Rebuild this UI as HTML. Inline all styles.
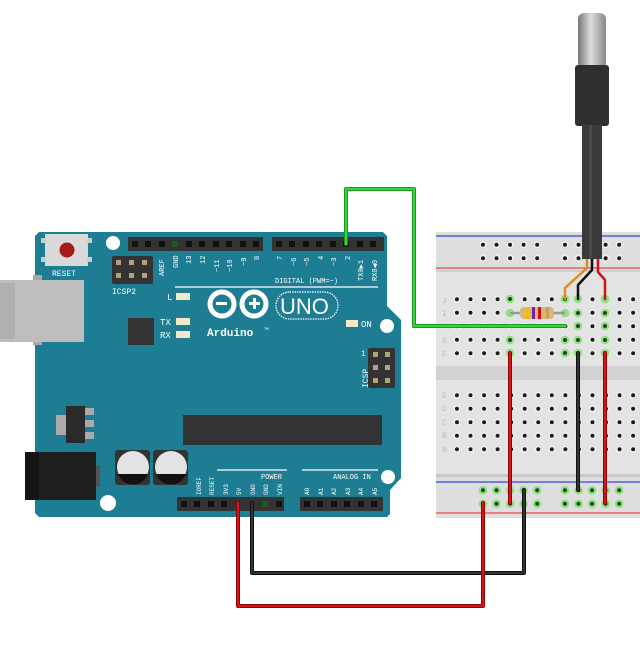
<!DOCTYPE html>
<html><head><meta charset="utf-8"><style>
html,body{margin:0;padding:0;background:#fff;width:640px;height:647px;overflow:hidden}
svg{display:block}
text{font-family:"Liberation Mono",monospace;fill:#fff}
</style></head><body>
<svg width="640" height="647" viewBox="0 0 640 647" xmlns="http://www.w3.org/2000/svg">
<defs>
<pattern id="h" x="450.2" y="292.5" width="13.55" height="13.5" patternUnits="userSpaceOnUse">
<circle cx="6.77" cy="6.75" r="3.3" fill="#f4f4f4"/><circle cx="6.77" cy="6.75" r="2" fill="#1a1a1a"/></pattern>
<pattern id="hb" x="450.2" y="388.5" width="13.55" height="13.5" patternUnits="userSpaceOnUse">
<circle cx="6.77" cy="6.75" r="3.3" fill="#f4f4f4"/><circle cx="6.77" cy="6.75" r="2" fill="#1a1a1a"/></pattern>
<pattern id="rt" x="476.2" y="238" width="13.55" height="13.5" patternUnits="userSpaceOnUse">
<circle cx="6.77" cy="6.75" r="3.3" fill="#f4f4f4"/><circle cx="6.77" cy="6.75" r="2" fill="#1a1a1a"/></pattern>
<pattern id="rt2" x="558.2" y="238" width="13.55" height="13.5" patternUnits="userSpaceOnUse">
<circle cx="6.77" cy="6.75" r="3.3" fill="#f4f4f4"/><circle cx="6.77" cy="6.75" r="2" fill="#1a1a1a"/></pattern>
<pattern id="g" x="476.2" y="483.5" width="13.55" height="13.5" patternUnits="userSpaceOnUse">
<circle cx="6.77" cy="6.75" r="4.3" fill="#8fe07f"/><circle cx="6.77" cy="6.75" r="2" fill="#1a4a1a"/></pattern>
<pattern id="g2" x="558.2" y="483.5" width="13.55" height="13.5" patternUnits="userSpaceOnUse">
<circle cx="6.77" cy="6.75" r="4.3" fill="#8fe07f"/><circle cx="6.77" cy="6.75" r="2" fill="#1a4a1a"/></pattern>
<linearGradient id="steel" x1="0" x2="1"><stop offset="0" stop-color="#777"/><stop offset=".45" stop-color="#ddd"/><stop offset="1" stop-color="#888"/></linearGradient>
</defs>

<!-- Breadboard -->
<rect x="436" y="232" width="204" height="286" fill="#e3e3e3"/>
<rect x="436" y="232" width="204" height="40" fill="#dedede"/>
<rect x="436" y="476" width="204" height="42" fill="#dedede"/>
<rect x="436" y="474" width="204" height="3" fill="#c8c8c8"/>
<rect x="436" y="270" width="204" height="2" fill="#cfcfcf"/>
<rect x="436" y="366" width="204" height="14" fill="#d2d2d2"/>
<line x1="436" y1="236" x2="640" y2="236" stroke="#3344dd" stroke-width="1.2"/>
<line x1="436" y1="268" x2="640" y2="268" stroke="#ee4444" stroke-width="1.2"/>
<line x1="436" y1="482" x2="640" y2="482" stroke="#3344dd" stroke-width="1.2"/>
<line x1="436" y1="513" x2="640" y2="513" stroke="#ee4444" stroke-width="1.2"/>
<rect x="450" y="292" width="190" height="68" fill="url(#h)"/>
<rect x="450" y="388" width="190" height="68" fill="url(#hb)"/>
<rect x="476" y="238" width="68" height="27" fill="url(#rt)"/>
<rect x="558" y="238" width="68" height="27" fill="url(#rt2)"/>
<rect x="476" y="483" width="68" height="27" fill="url(#g)"/>
<rect x="558" y="483" width="68" height="27" fill="url(#g2)"/>
<g font-size="8" font-family="Liberation Sans,sans-serif">
<text x="442" y="303" style="fill:#bbb">J</text><text x="442" y="316" style="fill:#bbb">I</text>
<text x="442" y="343" style="fill:#bbb">G</text><text x="442" y="357" style="fill:#bbb">F</text>
<text x="442" y="398" style="fill:#bbb">E</text><text x="442" y="411" style="fill:#bbb">D</text>
<text x="442" y="425" style="fill:#bbb">C</text><text x="442" y="438" style="fill:#bbb">B</text>
<text x="442" y="452" style="fill:#bbb">A</text>
</g>
<g fill="#8fe07f">
<circle cx="510" cy="299" r="4.3"/><circle cx="510" cy="313" r="4.3"/><circle cx="510" cy="340" r="4.3"/><circle cx="510" cy="353" r="4.3"/>
<circle cx="565" cy="299" r="4.3"/><circle cx="565" cy="313" r="4.3"/><circle cx="565" cy="340" r="4.3"/><circle cx="565" cy="353" r="4.3"/>
<circle cx="578" cy="299" r="4.3"/><circle cx="578" cy="313" r="4.3"/><circle cx="578" cy="326" r="4.3"/><circle cx="578" cy="340" r="4.3"/><circle cx="578" cy="353" r="4.3"/>
<circle cx="605" cy="299" r="4.3"/><circle cx="605" cy="313" r="4.3"/><circle cx="605" cy="326" r="4.3"/><circle cx="605" cy="340" r="4.3"/><circle cx="605" cy="353" r="4.3"/>
</g>
<g fill="#1a4a1a">
<circle cx="578" cy="313" r="2"/><circle cx="578" cy="326" r="2"/><circle cx="578" cy="340" r="2"/>
<circle cx="605" cy="313" r="2"/><circle cx="605" cy="326" r="2"/><circle cx="605" cy="340" r="2"/>
<circle cx="510" cy="299" r="2"/><circle cx="510" cy="340" r="2"/><circle cx="565" cy="340" r="2"/><circle cx="565" cy="299" r="2"/><circle cx="565" cy="353" r="2"/>
</g>

<!-- Arduino board -->
<polygon points="35,236 39,232 383,232 387,236 387,306 401,320 401,478 390,490 390,514 387,517 39,517 35,513" fill="#1c7d93"/>
<rect x="33" y="275" width="9" height="70" fill="#a8a8a8"/>
<rect x="0" y="280" width="84" height="62" fill="#bdbdbd"/>
<rect x="0" y="283" width="15" height="56" fill="#b0b0b0"/>
<rect x="45" y="234" width="43" height="32" fill="#d9d9d9"/>
<rect x="41" y="238" width="5" height="5" fill="#ccc"/><rect x="87" y="238" width="5" height="5" fill="#ccc"/>
<rect x="41" y="257" width="5" height="5" fill="#ccc"/><rect x="87" y="257" width="5" height="5" fill="#ccc"/>
<circle cx="67" cy="250" r="7.5" fill="#a51b1b"/>
<text x="52" y="276" font-size="8">RESET</text>
<circle cx="113" cy="243" r="7" fill="#fff"/>
<circle cx="387" cy="326" r="7" fill="#fff"/>
<circle cx="388" cy="477" r="7" fill="#fff"/>
<circle cx="108" cy="503" r="8" fill="#fff"/>
<rect x="128" y="237" width="135" height="14" fill="#333"/>
<g fill="#111">
<rect x="132" y="241" width="6" height="6"/><rect x="145" y="241" width="6" height="6"/><rect x="159" y="241" width="6" height="6"/><rect x="172" y="241" width="6" height="6" fill="#1a5a1a"/><rect x="186" y="241" width="6" height="6"/><rect x="199" y="241" width="6" height="6"/><rect x="213" y="241" width="6" height="6"/><rect x="226" y="241" width="6" height="6"/><rect x="240" y="241" width="6" height="6"/><rect x="253" y="241" width="6" height="6"/>
</g>
<rect x="272" y="237" width="112" height="14" fill="#333"/>
<g fill="#111">
<rect x="276" y="241" width="6" height="6"/><rect x="289" y="241" width="6" height="6"/><rect x="303" y="241" width="6" height="6"/><rect x="316" y="241" width="6" height="6"/><rect x="330" y="241" width="6" height="6"/><rect x="343" y="241" width="6" height="6"/><rect x="357" y="241" width="6" height="6"/><rect x="370" y="241" width="6" height="6"/>
</g>
<g font-size="7">
<text transform="translate(164,276) rotate(-90)">AREF</text>
<text transform="translate(178,268) rotate(-90)">GND</text>
<text transform="translate(191,264) rotate(-90)">13</text>
<text transform="translate(205,264) rotate(-90)">12</text>
<text transform="translate(219,272) rotate(-90)">~11</text>
<text transform="translate(232,272) rotate(-90)">~10</text>
<text transform="translate(246,266) rotate(-90)">~9</text>
<text transform="translate(259,260) rotate(-90)">8</text>
<text transform="translate(282,260) rotate(-90)">7</text>
<text transform="translate(296,266) rotate(-90)">~6</text>
<text transform="translate(309,266) rotate(-90)">~5</text>
<text transform="translate(323,260) rotate(-90)">4</text>
<text transform="translate(336,266) rotate(-90)">~3</text>
<text transform="translate(350,260) rotate(-90)">2</text>
<text transform="translate(363,281) rotate(-90)">TX0▶1</text>
<text transform="translate(377,281) rotate(-90)">RX0◀0</text>
<text x="275" y="283">DIGITAL (PWM=~)</text>
</g>
<line x1="175" y1="287" x2="378" y2="287" stroke="#fff" stroke-width="1.3"/>
<rect x="112" y="256" width="41" height="28" rx="2" fill="#333"/>
<g fill="#b5a27a"><rect x="116" y="260" width="5" height="5"/><rect x="129" y="260" width="5" height="5"/><rect x="142" y="260" width="5" height="5"/><rect x="116" y="273" width="5" height="5"/><rect x="129" y="273" width="5" height="5"/><rect x="142" y="273" width="5" height="5"/></g>
<text x="112" y="294" font-size="8">ICSP2</text>
<g fill="#f3e9c9"><rect x="176" y="293" width="14" height="7"/><rect x="176" y="318" width="14" height="7"/><rect x="176" y="331" width="14" height="7"/><rect x="346" y="320" width="12" height="7"/></g>
<text x="167" y="300" font-size="9">L</text><text x="160" y="325" font-size="9">TX</text><text x="160" y="338" font-size="9">RX</text>
<text x="361" y="327" font-size="9">ON</text>
<rect x="128" y="318" width="26" height="27" fill="#333"/>
<circle cx="222" cy="304" r="12" fill="none" stroke="#fff" stroke-width="5"/>
<circle cx="254" cy="304" r="12" fill="none" stroke="#fff" stroke-width="5"/>
<rect x="216" y="302" width="11" height="3" fill="#fff"/>
<rect x="249" y="302" width="11" height="3" fill="#fff"/><rect x="253" y="298" width="3" height="11" fill="#fff"/>
<rect x="276" y="292" width="62" height="27" rx="13.5" fill="none" stroke="#fff" stroke-width="1.3" stroke-dasharray="1.5 1"/>
<text x="280" y="314" font-size="22" style="font-family:'Liberation Sans',sans-serif">UNO</text>
<text x="207" y="336" font-size="11" font-weight="bold">Arduino</text>
<text x="264" y="330" font-size="4">TM</text>
<rect x="368" y="348" width="27" height="40" rx="2" fill="#333"/>
<g fill="#b5a27a"><rect x="373" y="352" width="5" height="5"/><rect x="385" y="352" width="5" height="5"/><rect x="373" y="365" width="5" height="5"/><rect x="385" y="365" width="5" height="5"/><rect x="373" y="378" width="5" height="5"/><rect x="385" y="378" width="5" height="5"/></g>
<text x="361" y="356" font-size="8">1</text>
<text transform="translate(368,388) rotate(-90)" font-size="8">ICSP</text>
<rect x="183" y="415" width="199" height="30" fill="#333"/>
<rect x="56" y="415" width="12" height="20" fill="#aaa"/>
<rect x="84" y="408" width="10" height="7" fill="#aaa"/><rect x="84" y="420" width="10" height="7" fill="#aaa"/><rect x="84" y="432" width="10" height="7" fill="#aaa"/>
<rect x="66" y="406" width="19" height="37" fill="#2a2a2a"/>
<rect x="96" y="465" width="4" height="22" fill="#555"/>
<rect x="25" y="452" width="71" height="48" fill="#1f1f1f"/>
<rect x="25" y="452" width="14" height="48" fill="#151515"/>
<rect x="115" y="450" width="35" height="35" rx="3" fill="#333"/>
<rect x="153" y="450" width="35" height="35" rx="3" fill="#333"/>
<circle cx="133" cy="467" r="16" fill="#e3e3e3"/><circle cx="171" cy="467" r="16" fill="#e3e3e3"/>
<path d="M118,474 A16,16 0 0 0 148,474 Z" fill="#111"/>
<path d="M156,474 A16,16 0 0 0 186,474 Z" fill="#111"/>
<line x1="217" y1="470" x2="287" y2="470" stroke="#fff" stroke-width="1.3"/>
<line x1="302" y1="470" x2="378" y2="470" stroke="#fff" stroke-width="1.3"/>
<text x="261" y="479" font-size="7">POWER</text>
<text x="333" y="479" font-size="7">ANALOG IN</text>
<g font-size="6">
<text transform="translate(201,495) rotate(-90)">IOREF</text>
<text transform="translate(214,495) rotate(-90)">RESET</text>
<text transform="translate(228,495) rotate(-90)">3V3</text>
<text transform="translate(241,495) rotate(-90)">5V</text>
<text transform="translate(255,495) rotate(-90)">GND</text>
<text transform="translate(268,495) rotate(-90)">GND</text>
<text transform="translate(282,495) rotate(-90)">VIN</text>
<text transform="translate(309,495) rotate(-90)">A0</text>
<text transform="translate(323,495) rotate(-90)">A1</text>
<text transform="translate(336,495) rotate(-90)">A2</text>
<text transform="translate(350,495) rotate(-90)">A3</text>
<text transform="translate(363,495) rotate(-90)">A4</text>
<text transform="translate(377,495) rotate(-90)">A5</text>
</g>
<rect x="177" y="497" width="107" height="14" fill="#333"/>
<rect x="300" y="497" width="83" height="14" fill="#333"/>
<g fill="#111">
<rect x="181" y="501" width="6" height="6"/><rect x="194" y="501" width="6" height="6"/><rect x="208" y="501" width="6" height="6"/><rect x="221" y="501" width="6" height="6"/><rect x="262" y="501" width="6" height="6" fill="#1a5a1a"/><rect x="276" y="501" width="6" height="6"/>
<rect x="304" y="501" width="6" height="6"/><rect x="317" y="501" width="6" height="6"/><rect x="331" y="501" width="6" height="6"/><rect x="344" y="501" width="6" height="6"/><rect x="358" y="501" width="6" height="6"/><rect x="371" y="501" width="6" height="6"/>
</g>

<!-- resistor -->
<line x1="510" y1="313" x2="565" y2="313" stroke="#999" stroke-width="2.5"/>
<rect x="520" y="307" width="34" height="12" rx="4" fill="#d8b77a"/>
<rect x="526" y="307" width="3" height="12" fill="#f0c000"/>
<rect x="532" y="307" width="3" height="12" fill="#7a1fa0"/>
<rect x="538" y="307" width="3" height="12" fill="#d01010"/>
<rect x="546" y="307" width="3" height="12" fill="#c9a060"/>

<g fill="none" stroke-linecap="round" stroke-linejoin="round">
<polyline points="346,244 346,189 414,189 414,326 565,326" stroke="#1d8f1d" stroke-width="4"/>
<polyline points="346,244 346,189 414,189 414,326 565,326" stroke="#35d535" stroke-width="2.2"/>
<polyline points="252,503 252,573 524,573 524,490" stroke="#111" stroke-width="4"/>
<polyline points="252,503 252,573 524,573 524,490" stroke="#333" stroke-width="2"/>
<polyline points="238,503 238,606 483,606 483,503" stroke="#8a0000" stroke-width="4"/>
<polyline points="238,503 238,606 483,606 483,503" stroke="#d41515" stroke-width="2.2"/>
<line x1="510" y1="353" x2="510" y2="503" stroke="#8a0000" stroke-width="4"/>
<line x1="510" y1="353" x2="510" y2="503" stroke="#d41515" stroke-width="2.2"/>
<line x1="578" y1="353" x2="578" y2="490" stroke="#111" stroke-width="4"/>
<line x1="578" y1="353" x2="578" y2="490" stroke="#333" stroke-width="2"/>
<line x1="605" y1="353" x2="605" y2="503" stroke="#8a0000" stroke-width="4"/>
<line x1="605" y1="353" x2="605" y2="503" stroke="#d41515" stroke-width="2.2"/>
<polyline points="587,258 587,268 565,288 565,299" stroke="#e08a20" stroke-width="2.5"/>
<polyline points="592,258 592,270 578,285 578,299" stroke="#111" stroke-width="2.5"/>
<polyline points="598,258 598,272 605,280 605,299" stroke="#cc1515" stroke-width="2.5"/>
</g>
<rect x="578" y="13" width="28" height="56" rx="6" fill="url(#steel)"/>
<rect x="575" y="65" width="34" height="61" rx="3" fill="#2f2f2f"/>
<rect x="582" y="125" width="20" height="134" fill="#3a3a3a"/>
<rect x="589" y="125" width="3" height="134" fill="#4a4a4a"/>
</svg>
</body></html>
